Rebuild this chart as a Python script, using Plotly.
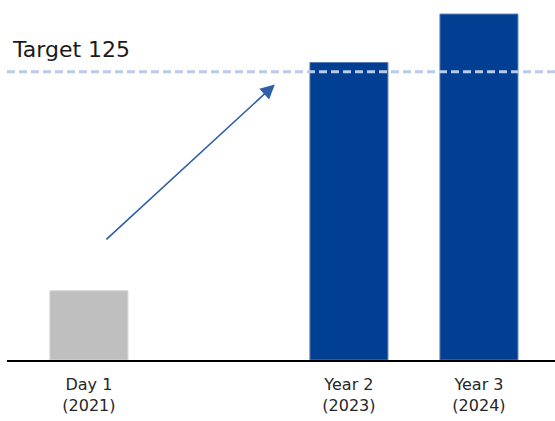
import plotly.graph_objects as go

# Data
positions = [0, 1, 2, 3]
tick_labels = ["Day 1<br>(2021)", "", "Year 2<br>(2023)", "Year 3<br>(2024)"]
bar_pos = [0, 2, 3]
values = [30, 129, 150]
colors = ["#BFBFBF", "#003F91", "#003F91"]
edge_colors = ["#D4D4D4", "#5A7DB5", "#5A7DB5"]
target = 125
target_label = "Target 125"

fig = go.Figure()
fig.add_trace(go.Bar(
    x=bar_pos, y=values, width=0.6,
    marker=dict(color=colors, line=dict(color=edge_colors, width=1)),
    hoverinfo="skip",
))

fig.add_shape(type="line", xref="paper", yref="y", x0=0, x1=1, y0=target, y1=target,
              line=dict(color="#B8CBEA", width=3, dash="8px,4px"), layer="above")

fig.add_annotation(xref="paper", yref="paper", x=0.0, y=0.862, xanchor="left", yanchor="middle",
                   text=target_label, showarrow=False,
                   font=dict(family="DejaVu Sans", size=22, color="#1a1a1a"), xshift=3)

fig.add_annotation(x=1.43, y=119.5, ax=0.123, ay=51.7, xref="x", yref="y", axref="x", ayref="y",
                   text="", showarrow=True, arrowhead=2, arrowsize=1.8, arrowwidth=1.6,
                   arrowcolor="#2F5EAA")

fig.update_layout(
    width=555, height=421,
    margin=dict(l=7, r=0, t=0, b=61),
    paper_bgcolor="white", plot_bgcolor="white",
    showlegend=False,
    font=dict(family="DejaVu Sans", size=16, color="#262626"),
    xaxis=dict(range=[-0.63, 3.585], tickvals=positions, ticktext=tick_labels,
               showline=True, linecolor="black", linewidth=2, showgrid=False,
               zeroline=False, ticks="", tickfont=dict(size=16), ticklabelstandoff=9),
    yaxis=dict(range=[0, 156.1], visible=False, showgrid=False, zeroline=False),
)

fig.write_html("out.html")
